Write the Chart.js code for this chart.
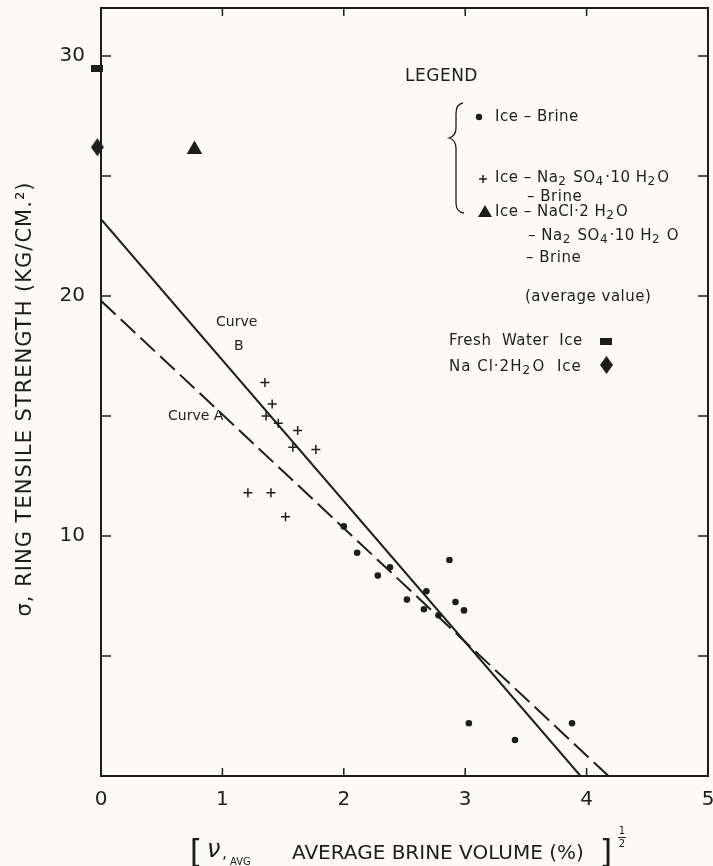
<!DOCTYPE html>
<html>
<head>
<meta charset="utf-8">
<script src="https://cdn.jsdelivr.net/npm/chart.js@4.4.0/dist/chart.umd.min.js"></script>
<style>
  html, body { margin: 0; padding: 0; background: #fbfaf6; }
  #wrap { width: 713px; height: 866px; }
</style>
</head>
<body>
<div id="wrap"><canvas id="c" width="713" height="866"></canvas></div>
<script>
// --- données ---
const iceBrineX = [2.00, 2.11, 2.28, 2.38, 2.52, 2.66, 2.68, 2.78, 2.87, 2.92, 2.99, 3.03, 3.41, 3.88];
const iceBrineY = [10.4, 9.3, 8.35, 8.7, 7.35, 6.95, 7.7, 6.7, 9.0, 7.25, 6.9, 2.2, 1.5, 2.2];

const sulfateX = [1.35, 1.41, 1.36, 1.46, 1.62, 1.58, 1.77, 1.21, 1.40, 1.52];
const sulfateY = [16.4, 15.5, 15.0, 14.7, 14.4, 13.7, 13.6, 11.8, 11.8, 10.8];

const eutecticX = [0.77];
const eutecticY = [26.1];

const freshWaterX = [-0.03];
const freshWaterY = [29.5];

const naclIceX = [-0.03];
const naclIceY = [26.2];

const curveAX = [0, 4.18];
const curveAY = [19.8, 0];
const curveBX = [0, 3.95];
const curveBY = [23.2, 0];

const xTickLabels = [0, 1, 2, 3, 4, 5];
const yTickLabels = [10, 20, 30];
const xTickMarks = [1, 2, 3, 4];
const yTickMarks = [5, 10, 15, 20, 25, 30];

const INK = '#1d1d1d';
const PAPER = '#fbfaf6';
const FONT = '"DejaVu Sans", "Liberation Sans", sans-serif';

function pts(xs, ys) {
    return xs.map(function (x, i) { return { x: x, y: ys[i] }; });
}

function marker(w, h, draw) {
    const c = document.createElement('canvas');
    c.width = w; c.height = h;
    const g = c.getContext('2d');
    g.fillStyle = INK;
    draw(g, w, h);
    return c;
}

const rectMarker = marker(12, 7, function (g, w, h) { g.fillRect(0, 0, w, h); });
const diamondMarker = marker(13, 18, function (g, w, h) {
    g.beginPath();
    g.moveTo(w / 2, 0); g.lineTo(w, h / 2); g.lineTo(w / 2, h); g.lineTo(0, h / 2);
    g.closePath(); g.fill();
});

function text(ctx, s, x, y, size, align) {
    ctx.font = size + 'px ' + FONT;
    ctx.textAlign = align || 'left';
    ctx.textBaseline = 'middle';
    ctx.fillText(s, x, y);
}

// texte avec indices : '_' devant un caractère = indice
function rich(ctx, s, x, y, size) {
    ctx.textAlign = 'left';
    ctx.textBaseline = 'middle';
    let cx = x;
    for (let i = 0; i < s.length; i++) {
        let ch = s[i], sub = false;
        if (ch === '_') { sub = true; ch = s[++i]; }
        ctx.font = (sub ? Math.round(size * 0.8) : size) + 'px ' + FONT;
        ctx.fillText(ch, cx, sub ? y + 4 : y);
        cx += ctx.measureText(ch).width + (sub ? 1.5 : 0);
    }
}

const decor = {
    id: 'decor',
    beforeDraw(chart) {
        const ctx = chart.ctx;
        ctx.save();
        ctx.fillStyle = PAPER;
        ctx.fillRect(0, 0, chart.width, chart.height);
        ctx.restore();
    },
    afterDraw(chart) {
        const ctx = chart.ctx;
        const a = chart.chartArea;
        const xs = chart.scales.x, ys = chart.scales.y;
        ctx.save();
        ctx.strokeStyle = INK;
        ctx.fillStyle = INK;

        // cadre
        ctx.lineWidth = 2;
        ctx.strokeRect(a.left, a.top, a.right - a.left, a.bottom - a.top);

        // graduations tournées vers l'intérieur
        ctx.lineWidth = 1.5;
        xTickMarks.forEach(function (v) {
            const px = xs.getPixelForValue(v);
            ctx.beginPath();
            ctx.moveTo(px, a.bottom); ctx.lineTo(px, a.bottom - 8);
            ctx.moveTo(px, a.top); ctx.lineTo(px, a.top + 8);
            ctx.stroke();
        });
        yTickMarks.forEach(function (v) {
            const py = ys.getPixelForValue(v);
            ctx.beginPath();
            ctx.moveTo(a.left, py); ctx.lineTo(a.left + 10, py);
            ctx.moveTo(a.right, py); ctx.lineTo(a.right - 10, py);
            ctx.stroke();
        });

        // titre axe Y
        ctx.save();
        ctx.translate(26, 399);
        ctx.rotate(-Math.PI / 2);
        ctx.font = '21px ' + FONT;
        ctx.letterSpacing = '1px';
        ctx.textAlign = 'center';
        ctx.textBaseline = 'middle';
        ctx.fillText('σ, RING TENSILE STRENGTH (KG/CM.²)', 0, 0, 440);
        ctx.restore();

        // titre axe X
        text(ctx, '[', 196, 854, 32, 'center');
        ctx.font = 'italic 24px ' + FONT;
        ctx.textAlign = 'left';
        ctx.fillText('ν', 207, 851);
        text(ctx, ',', 222, 854, 16);
        text(ctx, 'AVG', 230, 862, 10);
        ctx.font = '20px ' + FONT;
        ctx.textAlign = 'left';
        ctx.fillText('AVERAGE BRINE VOLUME (%)', 292, 854, 303);
        text(ctx, ']', 606, 854, 32, 'center');
        text(ctx, '1', 622, 831, 10, 'center');
        ctx.fillRect(618, 837, 8, 1);
        text(ctx, '2', 622, 844, 10, 'center');

        // étiquettes des courbes
        text(ctx, 'Curve', 216, 322, 14);
        text(ctx, 'B', 234, 346, 14);
        text(ctx, 'Curve A', 168, 416, 14);

        // légende
        ctx.letterSpacing = '0.5px';
        text(ctx, 'LEGEND', 405, 77, 17);
        ctx.beginPath(); ctx.arc(479, 117, 3.2, 0, Math.PI * 2); ctx.fill();
        text(ctx, 'Ice – Brine', 495, 117, 15);
        ctx.lineWidth = 1.5;
        ctx.beginPath();
        ctx.moveTo(479, 179); ctx.lineTo(487, 179);
        ctx.moveTo(483, 175); ctx.lineTo(483, 183);
        ctx.stroke();
        rich(ctx, 'Ice – Na_2 SO_4·10 H_2O', 495, 178, 15);
        text(ctx, '– Brine', 527, 197, 15);
        ctx.beginPath();
        ctx.moveTo(485, 205); ctx.lineTo(492, 217); ctx.lineTo(478, 217);
        ctx.closePath(); ctx.fill();
        rich(ctx, 'Ice – NaCl·2 H_2O', 495, 212, 15);
        rich(ctx, '– Na_2 SO_4·10 H_2 O', 528, 236, 15);
        text(ctx, '– Brine', 526, 258, 15);
        text(ctx, '(average value)', 525, 297, 15);
        text(ctx, 'Fresh  Water  Ice', 449, 341, 15);
        ctx.drawImage(rectMarker, 600, 338);
        ctx.letterSpacing = '1px';
        rich(ctx, 'Na Cl·2H_2O  Ice', 449, 367, 15);
        ctx.drawImage(diamondMarker, 600, 356);
        ctx.letterSpacing = '0px';

        // accolade
        ctx.lineWidth = 1.3;
        ctx.beginPath();
        ctx.moveTo(463, 103);
        ctx.quadraticCurveTo(456, 104, 456, 114);
        ctx.lineTo(456, 128);
        ctx.quadraticCurveTo(456, 136, 449, 138);
        ctx.quadraticCurveTo(456, 140, 456, 148);
        ctx.lineTo(456, 203);
        ctx.quadraticCurveTo(456, 212, 464, 213);
        ctx.stroke();

        ctx.restore();
    }
};

new Chart(document.getElementById('c'), {
    type: 'scatter',
    data: {
        datasets: [
            { label: 'Curve B', data: pts(curveBX, curveBY), showLine: true, borderColor: INK, borderWidth: 2, pointRadius: 0, fill: false },
            { label: 'Curve A', data: pts(curveAX, curveAY), showLine: true, borderColor: INK, borderWidth: 2, borderDash: [20, 7], pointRadius: 0, fill: false },
            { label: 'Ice - Brine', data: pts(iceBrineX, iceBrineY), pointStyle: 'circle', pointRadius: 3.3, backgroundColor: INK, borderColor: INK, borderWidth: 0 },
            { label: 'Ice - Na2SO4.10H2O - Brine', data: pts(sulfateX, sulfateY), pointStyle: 'cross', pointRadius: 4.5, borderColor: INK, borderWidth: 1.5 },
            { label: 'Ice - NaCl.2H2O - Na2SO4.10H2O - Brine', data: pts(eutecticX, eutecticY), pointStyle: 'triangle', pointRadius: 9, backgroundColor: INK, borderColor: INK, borderWidth: 0 },
            { label: 'Fresh Water Ice', data: pts(freshWaterX, freshWaterY), pointStyle: rectMarker, clip: false },
            { label: 'NaCl.2H2O Ice', data: pts(naclIceX, naclIceY), pointStyle: diamondMarker, clip: false }
        ]
    },
    options: {
        responsive: false,
        animation: false,
        devicePixelRatio: 1,
        layout: { autoPadding: false, padding: { top: 8, right: 5, left: 0, bottom: 0 } },
        plugins: { legend: { display: false }, tooltip: { enabled: false } },
        scales: {
            x: {
                type: 'linear', min: 0, max: 5,
                grid: { display: false, drawTicks: false },
                border: { display: false },
                ticks: {
                    stepSize: 1, padding: 12, maxRotation: 0, color: INK,
                    font: { family: FONT, size: 20 },
                    callback: function (v) { return xTickLabels.includes(v) ? String(v) : ''; }
                },
                afterFit: function (s) { s.height = 90; s.paddingLeft = 0; s.paddingRight = 0; }
            },
            y: {
                type: 'linear', min: 0, max: 32,
                grid: { display: false, drawTicks: false },
                border: { display: false },
                ticks: {
                    stepSize: 10, padding: 16, color: INK,
                    font: { family: FONT, size: 20 },
                    callback: function (v) { return yTickLabels.includes(v) ? String(v) : ''; }
                },
                afterFit: function (s) { s.width = 101; s.paddingTop = 0; s.paddingBottom = 0; }
            }
        }
    },
    plugins: [decor]
});
</script>
</body>
</html>
